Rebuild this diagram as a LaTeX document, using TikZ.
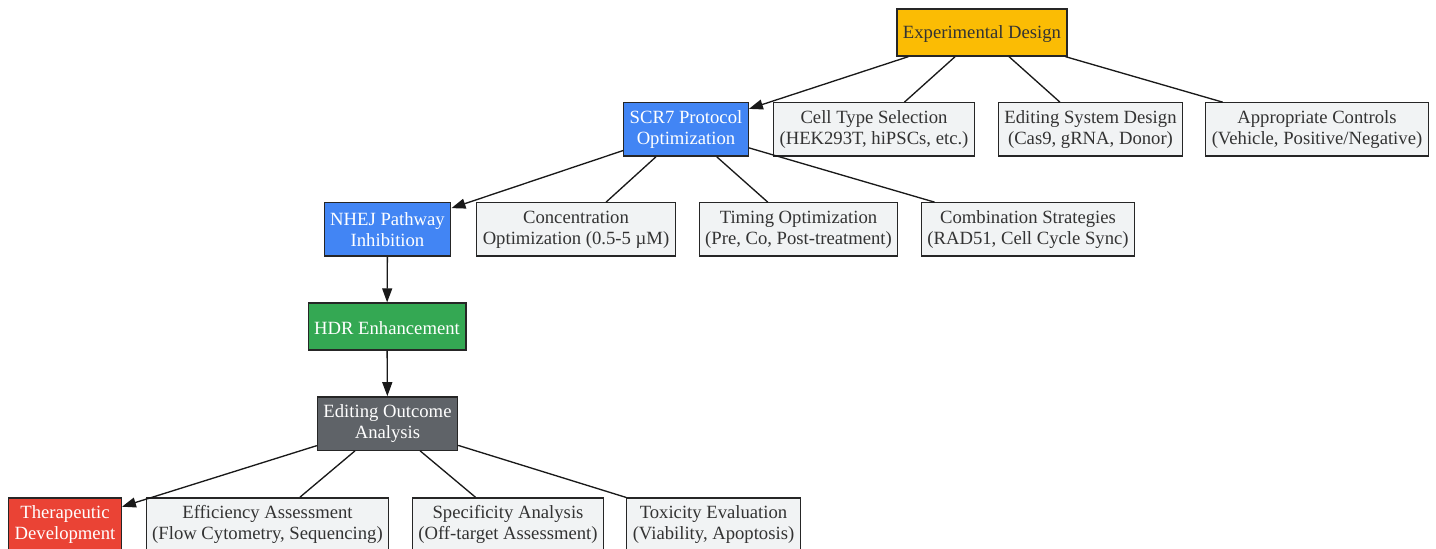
\documentclass[tikz,border=0pt]{standalone}
\usepackage{fontspec}
\setmainfont{Liberation Serif}
\usepackage{tikz}
\usetikzlibrary{arrows.meta}

\definecolor{designyellow}{HTML}{FBBC04}
\definecolor{scrblue}{HTML}{4285F4}
\definecolor{hdrgreen}{HTML}{34A853}
\definecolor{outcomegray}{HTML}{5F6368}
\definecolor{therapyred}{HTML}{EA4335}
\definecolor{stepfill}{HTML}{F1F3F4}

\tikzset{
  box/.style={draw=black!85, line width=1pt, align=center,
    font=\fontsize{14}{15.75}\selectfont, text=black!80,
    execute at begin node={\rule{0pt}{12.6pt}},
    inner xsep=4.5pt, inner ysep=3pt, minimum height=40pt},
  single/.style={minimum height=35.25pt},
  detail/.style={box, fill=stepfill},
  main/.style={box, text=white},
  link/.style={line width=1pt, black!90},
}

\begin{document}
\begin{tikzpicture}[x=0.75pt, y=-0.75pt]
  \useasboundingbox (0,0) rectangle (1436,549);
  % top level
  \node[box, single, fill=designyellow] (design) at (982,32.5) {Experimental Design};
  % second row
  \node[main, fill=scrblue] (scr) at (686,129.5) {SCR7 Protocol\\Optimization};
  \node[detail] (cells) at (874,129.5) {Cell Type Selection\\(HEK293T, hiPSCs, etc.)};
  \node[detail] (system) at (1090.5,129.5) {Editing System Design\\(Cas9, gRNA, Donor)};
  \node[detail] (controls) at (1317,129.5) {Appropriate Controls\\(Vehicle, Positive/Negative)};
  % third row
  \node[main, fill=scrblue] (nhej) at (387.5,229.5) {NHEJ Pathway\\Inhibition};
  \node[detail] (conc) at (576,229.5) {Concentration\\Optimization (0.5-5 µM)};
  \node[detail] (timing) at (798.5,229.5) {Timing Optimization\\(Pre, Co, Post-treatment)};
  \node[detail] (combo) at (1028,229.5) {Combination Strategies\\(RAD51, Cell Cycle Sync)};
  % chain
  \node[main, single, fill=hdrgreen] (hdr) at (387,326.5) {HDR Enhancement};
  \node[main, fill=outcomegray] (outcome) at (387.5,423.5) {Editing Outcome\\Analysis};
  % bottom row
  \node[main, fill=therapyred] (therapy) at (65,524.5) {Therapeutic\\Development};
  \node[detail] (efficiency) at (267.5,524.5) {Efficiency Assessment\\(Flow Cytometry, Sequencing)};
  \node[detail] (specificity) at (508,524.5) {Specificity Analysis\\(Off-target Assessment)};
  \node[detail] (toxicity) at (713.5,524.5) {Toxicity Evaluation\\(Viability, Apoptosis)};

  \path[link, -{Triangle[length=10.5pt, width=7.5pt]}]
  (design) edge (scr)
  (scr) edge (nhej)
  (nhej) edge (hdr)
  (hdr) edge (outcome)
  (outcome) edge (therapy)
  ;
  \path[link]
  (design) edge (cells)
  (design) edge (system)
  (design) edge (controls)
  (scr) edge (conc)
  (scr) edge (timing)
  (scr) edge (combo)
  (outcome) edge (efficiency)
  (outcome) edge (specificity)
  (outcome) edge (toxicity)
  ;
\end{tikzpicture}
\end{document}
